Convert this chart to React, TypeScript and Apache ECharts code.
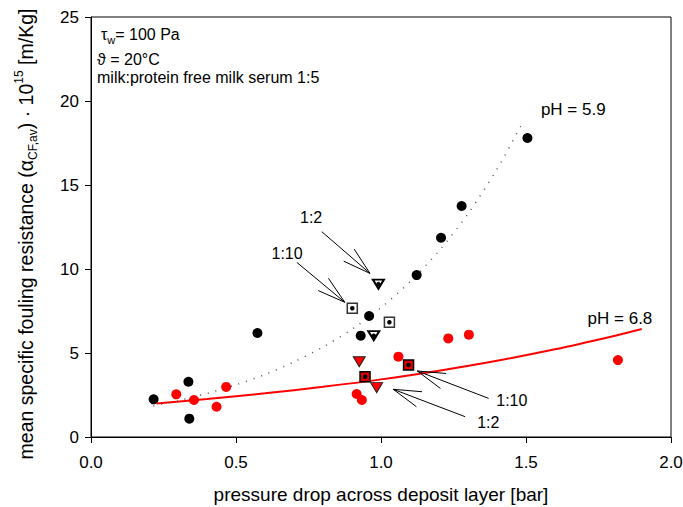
import React, { useEffect, useRef } from "react";
import * as echarts from "echarts";

// ---- data ----
const blackCircles: number[][] = [
  [0.216, 2.24], [0.336, 3.29], [0.339, 1.09], [0.574, 6.19], [0.93, 6.03],
  [0.959, 7.2], [1.123, 9.64], [1.207, 11.86], [1.278, 13.75], [1.505, 17.8],
];
const redCircles: number[][] = [
  [0.294, 2.54], [0.355, 2.2], [0.433, 1.8], [0.466, 2.98], [0.916, 2.56],
  [0.934, 2.2], [1.06, 4.78], [1.232, 5.87], [1.303, 6.09], [1.817, 4.58],
];
const blackSquares: number[][] = [[0.901, 7.66], [1.029, 6.83]];
const blackTriangles: number[][] = [[0.991, 9.1], [0.975, 6.03]];
const redSquares: number[][] = [[0.945, 3.59], [1.095, 4.29]];
const redTriangles: number[][] = [[0.925, 4.48], [0.985, 2.94]];

const fitPH68: number[][] = [
  [0.226, 2.0], [0.4, 2.26], [0.6, 2.6], [0.8, 2.99], [1.0, 3.43],
  [1.2, 3.95], [1.4, 4.54], [1.6, 5.22], [1.8, 6.0], [1.899, 6.43],
];
const fitPH59: number[][] = [
  [0.215, 1.85], [0.3, 2.16], [0.4, 2.59], [0.5, 3.11], [0.6, 3.72],
  [0.7, 4.47], [0.8, 5.36], [0.9, 6.42], [1.0, 7.7], [1.1, 9.24],
  [1.2, 11.08], [1.3, 13.29], [1.4, 15.94], [1.485, 18.6],
];

const arrowFrom: number[][] = [[0.796, 12.22], [0.71, 10.39], [1.371, 2.3], [1.29, 1.21]];
const arrowTo: number[][] = [[0.962, 9.74], [0.875, 8.02], [1.125, 3.93], [1.042, 2.84]];
const arrowLabels: string[] = ["1:2", "1:10", "1:10", "1:2"];
const arrowLabelPos: number[][] = [[0.759, 13.04], [0.676, 10.95], [1.451, 2.2], [1.37, 0.85]];
const curveLabels: string[] = ["pH = 5.9", "pH = 6.8"];
const curveLabelPos: number[][] = [[1.663, 19.52], [1.824, 7.07]];

const xRange = { min: 0, max: 2, step: 0.5 };
const yRange = { min: 0, max: 25, step: 5 };

const FONT = '"Liberation Sans", Arial, Helvetica, sans-serif';

export default function App() {
  const ref = useRef<HTMLDivElement>(null);
  useEffect(() => {
    if (!ref.current) return;
    const chart = echarts.init(ref.current, undefined, { renderer: "svg" });

    const textSeries = (positions: number[][], labels: string[], size: number) => ({
      type: "custom",
      data: positions.map((p) => [p[0], p[1]]),
      silent: true,
      z: 6,
      renderItem: (params: any, api: any) => {
        const p = api.coord([api.value(0), api.value(1)]);
        return {
          type: "text",
          x: p[0],
          y: p[1],
          style: {
            text: labels[params.dataIndex],
            fill: "#000",
            fontSize: size,
            fontFamily: FONT,
            align: "center",
            verticalAlign: "middle",
          },
        };
      },
    });

    const option: any = {
      animation: false,
      backgroundColor: "#fff",
      grid: {
        left: 91, top: 17, right: 12, bottom: 70,
        outerBoundsMode: "none",
        containLabel: false,
        show: true, borderColor: "#000", borderWidth: 1,
      },
      xAxis: {
        type: "value",
        min: xRange.min, max: xRange.max, interval: xRange.step,
        name: "pressure drop across deposit layer [bar]",
        nameLocation: "middle",
        nameGap: 48,
        nameTextStyle: { fontSize: 19, color: "#000", fontFamily: FONT },
        axisLine: { show: true, lineStyle: { color: "#000", width: 1 } },
        axisTick: { show: true, inside: false, length: 6, lineStyle: { color: "#000" } },
        axisLabel: {
          fontSize: 17, color: "#000", fontFamily: FONT, margin: 17,
          formatter: (v: number) => v.toFixed(1),
        },
        splitLine: { show: false },
      },
      yAxis: {
        type: "value",
        min: yRange.min, max: yRange.max, interval: yRange.step,
        axisLine: { show: true, lineStyle: { color: "#000", width: 1 } },
        axisTick: { show: true, inside: false, length: 6, lineStyle: { color: "#000" } },
        axisLabel: { fontSize: 17, color: "#000", fontFamily: FONT, margin: 12 },
        splitLine: { show: false },
      },
      graphic: [
        {
          type: "text", x: 101, y: 34,
          style: {
            text: "τ{sub|w}= 100 Pa",
            fontSize: 16, fontFamily: FONT, fill: "#000", lineHeight: 22,
            verticalAlign: "middle", align: "left",
            rich: { sub: { fontSize: 11, fontFamily: FONT, lineHeight: 12, verticalAlign: "bottom" } },
          },
        },
        {
          type: "text", x: 97, y: 59,
          style: { text: "ϑ = 20°C", fontSize: 16, fontFamily: FONT, fill: "#000", verticalAlign: "middle", align: "left" },
        },
        {
          type: "text", x: 97, y: 77,
          style: { text: "milk:protein free milk serum 1:5", fontSize: 16, fontFamily: FONT, fill: "#000", verticalAlign: "middle", align: "left" },
        },
        {
          type: "text", x: 26, y: 234, rotation: Math.PI / 2,
          style: {
            text: "mean specific fouling resistance ({a|α}{sub|CF,av}) · 10{sup|15} [m/Kg]",
            fontSize: 19.5, fontFamily: FONT, fill: "#000", lineHeight: 26,
            align: "center", verticalAlign: "middle",
            rich: {
              a: { fontSize: 19.5, fontFamily: FONT, lineHeight: 26 },
              sub: { fontSize: 12, fontFamily: FONT, lineHeight: 13, verticalAlign: "bottom" },
              sup: { fontSize: 12, fontFamily: FONT, lineHeight: 13, verticalAlign: "top" },
            },
          },
        },
      ],
      series: [
        {
          type: "line", data: fitPH68, smooth: 0.3, showSymbol: false, symbol: "none",
          lineStyle: { color: "#ff0000", width: 2 }, z: 2, silent: true,
        },
        {
          type: "line", data: fitPH59, smooth: 0.3, showSymbol: false, symbol: "none",
          lineStyle: { color: "#555", width: 1.5, type: [1, 7] }, z: 2, silent: true,
        },
        {
          type: "scatter", data: blackCircles, symbol: "circle", symbolSize: 10,
          itemStyle: { color: "#000", opacity: 1 }, z: 3,
        },
        {
          type: "scatter", data: redCircles, symbol: "circle", symbolSize: 10,
          itemStyle: { color: "#ff0000", opacity: 1 }, z: 3,
        },
        {
          type: "scatter", data: blackSquares, symbol: "rect", symbolSize: 10,
          itemStyle: { color: "#fff", borderColor: "#333", borderWidth: 1.5, opacity: 1 }, z: 3,
        },
        {
          type: "scatter", data: blackTriangles, symbol: "triangle", symbolSize: [11, 9], symbolRotate: 180,
          itemStyle: { color: "#fff", borderColor: "#000", borderWidth: 2, opacity: 1 }, z: 3,
        },
        {
          type: "scatter", data: redSquares, symbol: "rect", symbolSize: 10,
          itemStyle: { color: "#e00000", borderColor: "#000", borderWidth: 1.5, opacity: 1 }, z: 3,
        },
        {
          type: "scatter", data: redTriangles, symbol: "triangle", symbolSize: [12, 10], symbolRotate: 180,
          itemStyle: { color: "#ff0000", borderColor: "#222", borderWidth: 1, opacity: 1 }, z: 3,
        },
        {
          type: "scatter", data: [...blackSquares, ...blackTriangles, ...redSquares],
          symbol: "circle", symbolSize: 4.5, itemStyle: { color: "#000", opacity: 1 }, z: 4,
        },
        {
          type: "custom",
          data: arrowFrom.map((f, i) => [f[0], f[1], arrowTo[i][0], arrowTo[i][1]]),
          dimensions: ["x1", "y1", "x2", "y2"],
          encode: { x: [0, 2], y: [1, 3] },
          silent: true,
          z: 5,
          renderItem: (params: any, api: any) => {
            const s = api.coord([api.value(0), api.value(1)]);
            const t = api.coord([api.value(2), api.value(3)]);
            const ang = Math.atan2(s[1] - t[1], s[0] - t[0]);
            const L = 29;
            const th = (16 * Math.PI) / 180;
            const b1 = [t[0] + L * Math.cos(ang + th), t[1] + L * Math.sin(ang + th)];
            const b2 = [t[0] + L * Math.cos(ang - th), t[1] + L * Math.sin(ang - th)];
            return {
              type: "group",
              children: [
                { type: "line", shape: { x1: s[0], y1: s[1], x2: t[0], y2: t[1] }, style: { stroke: "#000", lineWidth: 1 } },
                { type: "polyline", shape: { points: [b1, t, b2] }, style: { stroke: "#000", fill: "none", lineWidth: 1 } },
              ],
            };
          },
        },
        textSeries(arrowLabelPos, arrowLabels, 16),
        textSeries(curveLabelPos, curveLabels, 17),
      ],
    };
    chart.setOption(option);
    return () => chart.dispose();
  }, []);
  return <div ref={ref} style={{ width: 683, height: 507, position: "absolute", left: 0, top: 0 }} />;
}
